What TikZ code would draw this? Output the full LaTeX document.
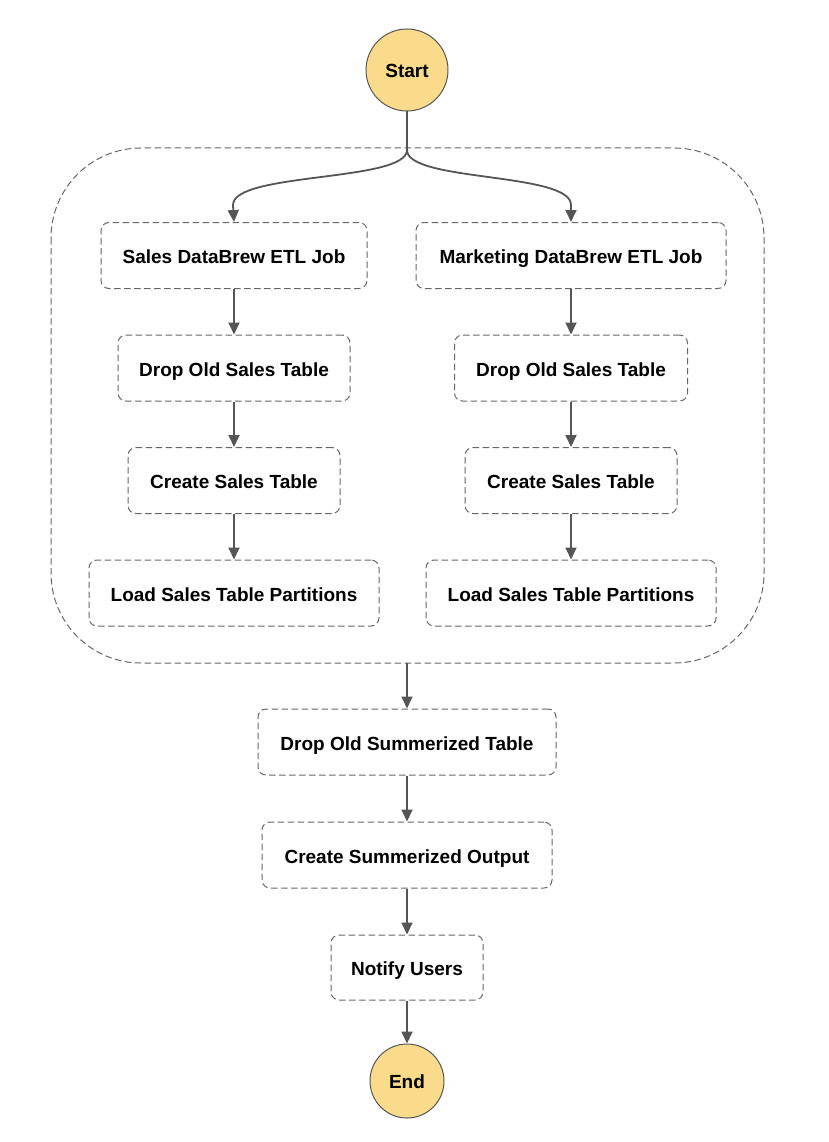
\documentclass[tikz,border=0pt]{standalone}
\usepackage{fontspec}
\setmainfont{Liberation Sans}
\usetikzlibrary{arrows.meta,calc}
\definecolor{edgec}{HTML}{555555}
\definecolor{boxc}{HTML}{666666}
\definecolor{startc}{HTML}{F9DB8B}
\tikzset{
  stepbox/.style={draw=boxc, line width=1pt, dash pattern=on 6.5pt off 3.5pt, rounded corners=8pt, minimum height=66pt, font=\fontsize{19}{22}\selectfont\bfseries, inner sep=0pt, text height=16.5pt, text depth=0pt},
  term/.style={circle, draw=edgec, line width=1pt, fill=startc, font=\fontsize{19}{22}\selectfont\bfseries, inner sep=0pt, text height=15pt, text depth=0pt},
  conn/.style={draw=edgec, line width=1.8pt, -{Triangle[length=12pt,width=11pt]}},
}
\begin{document}
\begin{tikzpicture}[x=1pt,y=-1pt]
\useasboundingbox (0,0) rectangle (828,1142);
\draw[draw=boxc, line width=1pt, dash pattern=on 6.5pt off 3.5pt, rounded corners=90pt] (51,148) rectangle (764,663);
\coordinate (pbot) at (407,663);
\node[term, minimum size=82pt] (start) at (407,70) {Start};
\node[stepbox, minimum width=266pt] (l1) at (234,255.5) {Sales DataBrew ETL Job};
\node[stepbox, minimum width=232pt] (l2) at (234,368) {Drop Old Sales Table};
\node[stepbox, minimum width=212pt] (l3) at (234,480.5) {Create Sales Table};
\node[stepbox, minimum width=290pt] (l4) at (234,593) {Load Sales Table Partitions};
\node[stepbox, minimum width=310pt] (r1) at (571,255.5) {Marketing DataBrew ETL Job};
\node[stepbox, minimum width=233pt] (r2) at (571,368) {Drop Old Sales Table};
\node[stepbox, minimum width=212pt] (r3) at (571,480.5) {Create Sales Table};
\node[stepbox, minimum width=290pt] (r4) at (571,593) {Load Sales Table Partitions};
\node[stepbox, minimum width=298pt] (b1) at (407,742) {Drop Old Summerized Table};
\node[stepbox, minimum width=290pt] (b2) at (407,855) {Create Summerized Output};
\node[stepbox, minimum width=152pt, minimum height=65pt] (b3) at (407,967.5) {Notify Users};
\node[term, minimum size=74pt] (endn) at (407,1081) {End};
\coordinate (fork) at (407,150);
\draw[draw=edgec, line width=1.8pt] (start.south) -- (fork);
\draw[conn] (fork) .. controls (407,182) and (233,172) .. (233,205) -- (l1.north);
\draw[conn] (fork) .. controls (407,182) and (571,172) .. (571,205) -- (r1.north);
\draw[conn] (l1) -- (l2);
\draw[conn] (l2) -- (l3);
\draw[conn] (l3) -- (l4);
\draw[conn] (r1) -- (r2);
\draw[conn] (r2) -- (r3);
\draw[conn] (r3) -- (r4);
\draw[conn] (pbot) -- (b1.north);
\draw[conn] (b1) -- (b2);
\draw[conn] (b2) -- (b3);
\draw[conn] (b3) -- (endn);
\end{tikzpicture}
\end{document}
